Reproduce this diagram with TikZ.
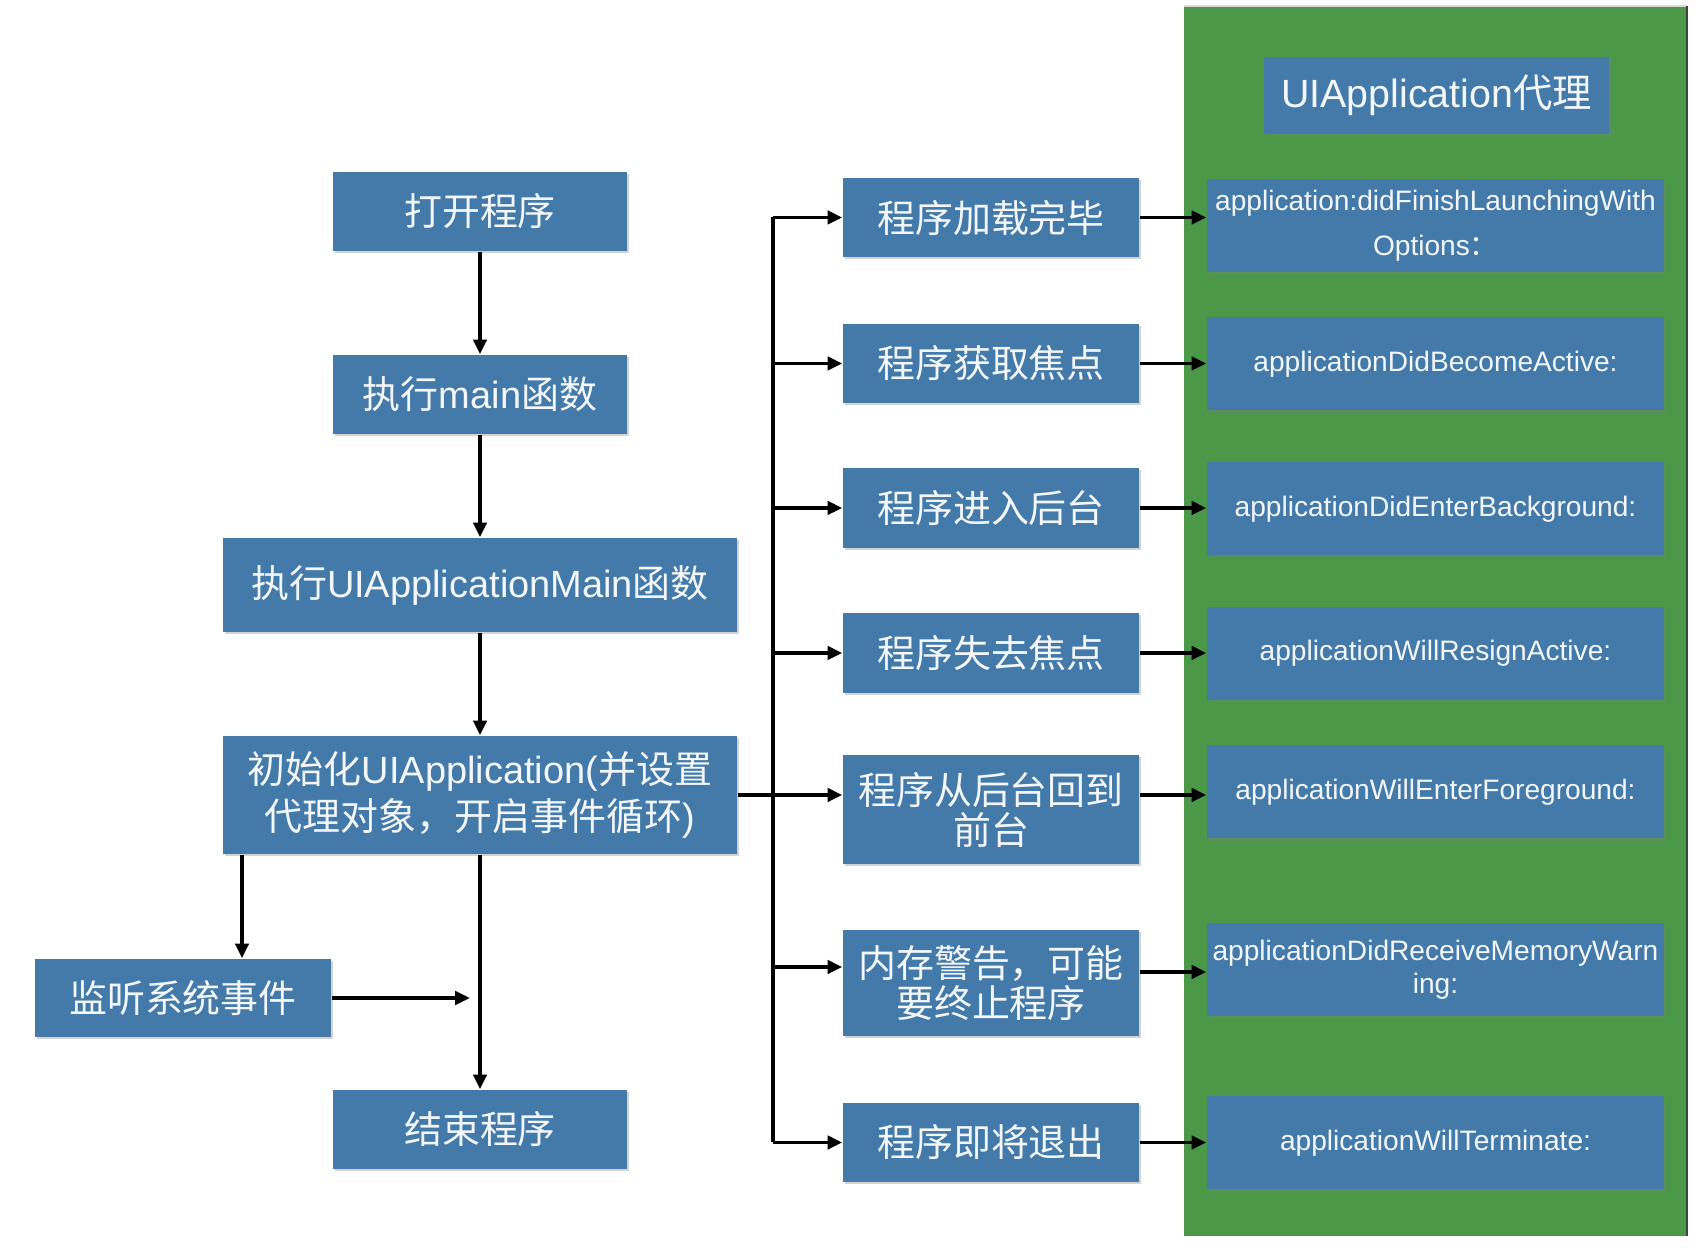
\documentclass[tikz,border=0pt]{standalone}
\usepackage{fontspec}
\setmainfont{Liberation Sans}
\newfontfamily\zh{Noto Sans CJK SC}
\usepackage{xcolor}
\usepackage{tikz}
\usetikzlibrary{arrows.meta,positioning,shadows}

\definecolor{boxblue}{RGB}{67,122,170}
\definecolor{panelgreen}{RGB}{75,152,73}

\begin{document}
\begin{tikzpicture}[
    stage/.style={fill=boxblue,text=white!94!boxblue,align=center,inner sep=1pt,
      drop shadow={shadow xshift=0.5pt,shadow yshift=-0.7pt,opacity=0.35},
      font=\fontsize{10.8}{13.3}\selectfont},
    delegate/.style={stage,minimum width=4.57cm,minimum height=0.93cm,
      font=\fontsize{8}{12.7}\selectfont},
    flow/.style={-{Triangle[length=4.2pt,width=3.8pt]},line width=1pt}
  ]
  \useasboundingbox (0,0) rectangle (17.08,-12.48);
  % delegate panel
  \fill[panelgreen] (11.84,-0.06) rectangle (16.87,-12.36);
  \draw[black!15] (11.84,-0.06) -- (16.87,-0.06);
  \draw[black!75,line width=0.6pt] (16.87,-0.06) -- (16.87,-12.36);

  % left column: program life
  \node[stage,minimum width=2.94cm,minimum height=0.79cm] (open) at (4.80,-2.115) {\zh 打开程序};
  \node[stage,minimum width=2.94cm,minimum height=0.79cm] (mainfn) at (4.80,-3.945) {{\zh 执行}main{\zh 函数}};
  \node[stage,minimum width=5.14cm,minimum height=0.94cm] (uimain) at (4.80,-5.85) {{\zh 执行}UIApplicationMain{\zh 函数}};
  \node[stage,minimum width=5.14cm,minimum height=1.18cm] (init) at (4.80,-7.95)
    {{\zh 初始化}UIApplication({\zh 并设置}\\{\zh 代理对象，开启事件循环})};
  \node[stage,minimum width=2.96cm,minimum height=0.78cm] (listen) at (1.83,-9.98) {\zh 监听系统事件};
  \node[stage,minimum width=2.94cm,minimum height=0.79cm] (endp) at (4.80,-11.295) {\zh 结束程序};

  % middle column: events
  \node[stage,minimum width=2.96cm,minimum height=0.79cm] (load) at (9.91,-2.175) {\zh 程序加载完毕};
  \node[stage,minimum width=2.96cm,minimum height=0.79cm] (active) at (9.91,-3.635) {\zh 程序获取焦点};
  \node[stage,minimum width=2.96cm,minimum height=0.80cm] (bg) at (9.91,-5.08) {\zh 程序进入后台};
  \node[stage,minimum width=2.96cm,minimum height=0.80cm] (resign) at (9.91,-6.53) {\zh 程序失去焦点};
  \node[stage,minimum width=2.96cm,minimum height=1.09cm,font=\fontsize{10.8}{11.4}\selectfont] (fg) at (9.91,-8.095)
    {\zh 程序从后台回到\\\zh 前台};
  \node[stage,minimum width=2.96cm,minimum height=1.06cm,font=\fontsize{10.8}{11.2}\selectfont] (mem) at (9.91,-9.83)
    {\zh 内存警告，可能\\\zh 要终止程序};
  \node[stage,minimum width=2.96cm,minimum height=0.79cm] (term) at (9.91,-11.425) {\zh 程序即将退出};

  % right column: delegate methods
  \node[stage,minimum width=3.45cm,minimum height=0.77cm,font=\fontsize{11.2}{13}\selectfont] (title) at (14.365,-0.955)
    {UIApplication{\zh 代理}};
  \node[delegate] (r1) at (14.355,-2.255) {application:didFinishLaunchingWith\\Options{\zh ：}};
  \node[delegate] (r2) at (14.355,-3.64) {applicationDidBecomeActive:};
  \node[delegate] (r3) at (14.355,-5.09) {applicationDidEnterBackground:};
  \node[delegate] (r4) at (14.355,-6.535) {applicationWillResignActive:};
  \node[delegate] (r5) at (14.355,-7.92) {applicationWillEnterForeground:};
  \node[delegate,font=\fontsize{8}{9.4}\selectfont] (r6) at (14.355,-9.695) {applicationDidReceiveMemoryWarn\\ing:};
  \node[delegate] (r7) at (14.355,-11.43) {applicationWillTerminate:};

  % main flow
  \draw[flow] (open) -- (mainfn);
  \draw[flow] (mainfn) -- (uimain);
  \draw[flow] (uimain) -- (init);
  \draw[flow] (init) -- (endp);
  \draw[flow] (2.42,0 |- init.south) -- (2.42,0 |- listen.north);
  \coordinate (join) at (4.70,-9.98);
  \draw[flow] (listen.east) -- (join);

  % event bus
  \coordinate (bus) at (7.73,0);
  \coordinate (memy) at ([yshift=1.6mm]mem.west);
  \draw[line width=1pt] (bus |- load.west) -- (bus |- term.west);
  \foreach \ev in {load,active,bg,resign,term}
    \draw[flow] (bus |- \ev.west) -- (\ev.west);
  \draw[flow] (init.east) -- (init.east -| fg.west);
  \draw[flow] (bus |- memy) -- (memy);

  % events to delegate
  \draw[flow] (load.east) -- (load.east -| r1.west);
  \draw[flow] (active.east) -- (active.east -| r2.west);
  \draw[flow] (bg.east) -- (bg.east -| r3.west);
  \draw[flow] (resign.east) -- (resign.east -| r4.west);
  \draw[flow] (init.east -| fg.east) -- (init.east -| r5.west);
  \draw[flow] ([yshift=-0.5mm]memy -| mem.east) -- ([yshift=-0.5mm]memy -| r6.west);
  \draw[flow] (term.east) -- (term.east -| r7.west);
\end{tikzpicture}
\end{document}
